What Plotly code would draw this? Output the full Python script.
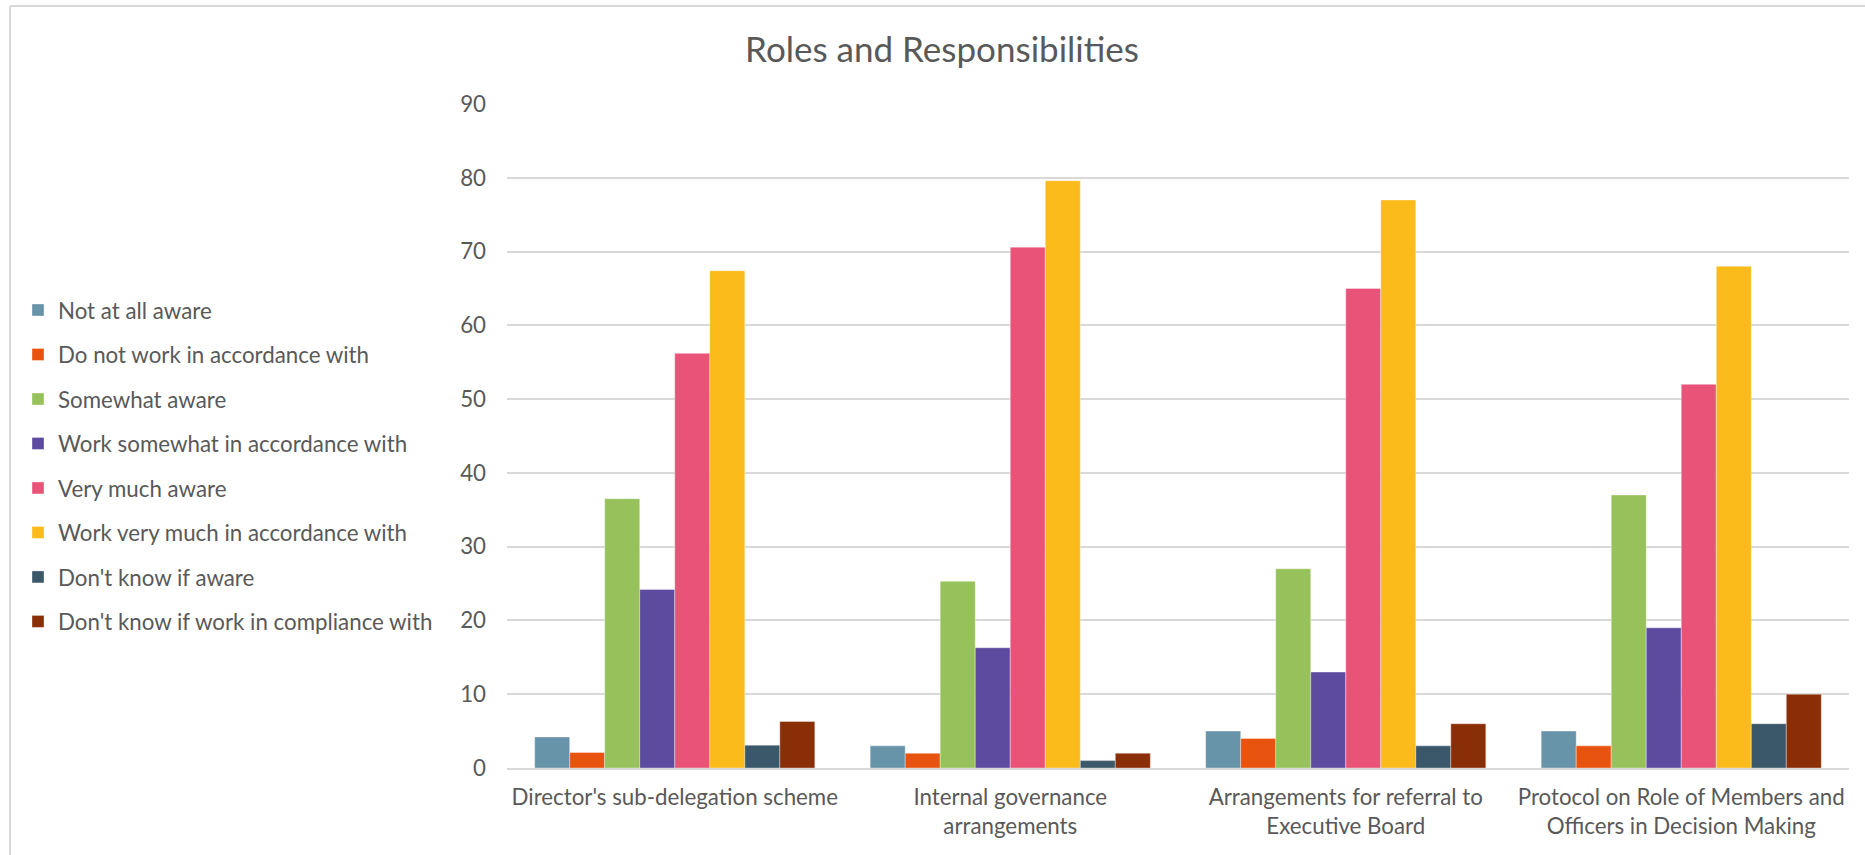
import plotly.graph_objects as go

# Categories along the x axis
categories = [
    "Director's sub-delegation scheme",
    "Internal governance<br>arrangements",
    "Arrangements for referral to<br>Executive Board",
    "Protocol on Role of Members and<br>Officers in Decision Making",
]

# Response series
series_names = [
    "Not at all aware",
    "Do not work in accordance with",
    "Somewhat aware",
    "Work somewhat in accordance with",
    "Very much aware",
    "Work very much in accordance with",
    "Don't know if aware",
    "Don't know if work in compliance with",
]

not_at_all_aware = [4.2, 3.0, 5.0, 5.0]
do_not_work = [2.1, 2.0, 4.0, 3.0]
somewhat_aware = [36.5, 25.3, 27.0, 37.0]
work_somewhat = [24.2, 16.3, 13.0, 19.0]
very_much_aware = [56.2, 70.6, 65.0, 52.0]
work_very_much = [67.4, 79.6, 77.0, 68.0]
dont_know_aware = [3.1, 1.0, 3.0, 6.0]
dont_know_work = [6.3, 2.0, 6.0, 10.0]

series_values = [
    not_at_all_aware, do_not_work, somewhat_aware, work_somewhat,
    very_much_aware, work_very_much, dont_know_aware, dont_know_work,
]

colors = [
    "#6794A9", "#E8540F", "#97C15A", "#5D4BA0",
    "#E95378", "#FBBC1B", "#3A5869", "#8A2E08",
]

TEXT = "#595959"
FONT = "Lato"
FS = 22.3

fig = go.Figure()
for i, (name, vals, col) in enumerate(zip(series_names, series_values, colors)):
    fig.add_trace(go.Bar(
        name=name,
        x=categories,
        y=vals,
        marker=dict(color=col, line=dict(color="rgba(255,255,255,0.6)", width=0.6)),
        legendgroup=f"g{i}",
    ))

W, H = 1865, 855
fig.update_layout(
    width=W, height=H,
    barmode="group",
    bargap=0.165,
    bargroupgap=0,
    paper_bgcolor="white",
    plot_bgcolor="white",
    margin=dict(l=507, r=16, t=104, b=87, autoexpand=False),
    font=dict(family=FONT, color=TEXT, size=FS),
    title=dict(
        text="Roles and Responsibilities",
        font=dict(family=FONT, size=35, color=TEXT),
        x=942 / W, xref="container", xanchor="center",
        y=1 - 50 / H, yref="container", yanchor="middle",
    ),
    legend=dict(
        xref="container", x=18 / W, xanchor="left",
        yref="container", y=1 - 289 / H, yanchor="top",
        font=dict(family=FONT, size=FS, color=TEXT),
        tracegroupgap=12.5,
        bgcolor="rgba(0,0,0,0)",
    ),
    showlegend=True,
    shapes=[
        dict(type="line", xref="paper", yref="paper",
             x0=-497 / 1342, x1=1.2, y0=1 + 98 / 664, y1=1 + 98 / 664,
             line=dict(color="#D9D9D9", width=2)),
        dict(type="line", xref="paper", yref="paper",
             x0=-497 / 1342, x1=-497 / 1342, y0=-0.2, y1=1 + 98 / 664,
             line=dict(color="#D9D9D9", width=2)),
    ],
)

fig.update_yaxes(
    range=[0, 90],
    dtick=10,
    showgrid=True,
    gridcolor="#D9D9D9",
    gridwidth=1.5,
    zeroline=False,
    showline=False,
    ticks="",
    ticklabelstandoff=20,
    tickfont=dict(family=FONT, size=FS, color=TEXT),
)
fig.update_xaxes(
    showline=True,
    linecolor="#D9D9D9",
    linewidth=1.5,
    ticks="",
    tickfont=dict(family=FONT, size=FS, color=TEXT),
    ticklabelstandoff=8,
)

fig.write_html("out.html")
